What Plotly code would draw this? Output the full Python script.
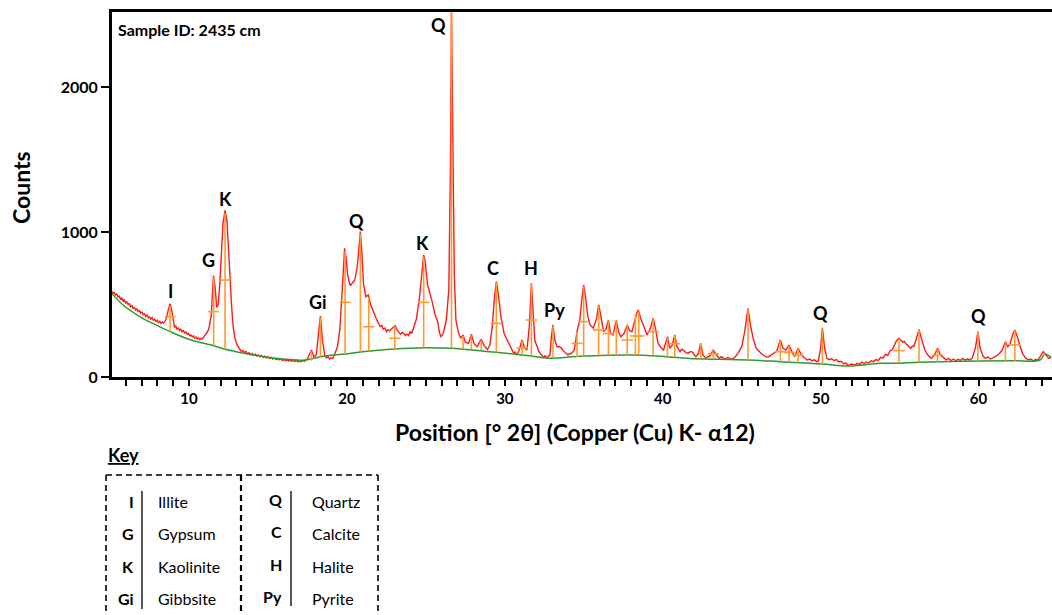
import plotly.graph_objects as go

# ---------------- data ----------------
# measured XRD pattern: (position in degrees 2-theta, counts)
xrd_pattern = [
    (5.10, 590), (5.18, 578), (5.26, 584), (5.34, 566), (5.42, 572), (5.50, 552), (5.58, 558), (5.66, 538),
    (5.74, 545), (5.82, 525), (5.90, 532), (5.98, 510), (6.06, 518), (6.14, 500), (6.22, 506), (6.30, 484),
    (6.38, 492), (6.46, 474), (6.54, 480), (6.62, 462), (6.70, 470), (6.78, 452), (6.86, 458), (6.94, 440),
    (7.02, 448), (7.10, 430), (7.18, 436), (7.26, 418), (7.34, 428), (7.42, 408), (7.50, 414), (7.58, 400),
    (7.66, 410), (7.74, 392), (7.82, 398), (7.90, 385), (7.98, 392), (8.06, 376), (8.14, 384), (8.22, 370),
    (8.30, 380), (8.38, 372), (8.46, 382), (8.55, 400), (8.70, 470), (8.80, 505), (8.90, 460), (9.00, 380),
    (9.08, 345), (9.16, 352), (9.24, 330), (9.32, 338), (9.40, 322), (9.48, 330), (9.56, 312), (9.64, 320),
    (9.72, 304), (9.80, 310), (9.88, 295), (9.96, 302), (10.04, 285), (10.12, 290), (10.20, 276), (10.28, 284),
    (10.36, 268), (10.44, 276), (10.52, 262), (10.60, 270), (10.68, 258), (10.76, 268), (10.84, 262), (10.95, 280),
    (11.10, 300), (11.25, 330), (11.40, 420), (11.55, 700), (11.65, 620), (11.75, 480), (11.85, 500), (11.95, 650),
    (12.05, 880), (12.15, 1060), (12.28, 1150), (12.40, 1080), (12.50, 880), (12.60, 660), (12.70, 480), (12.80, 340),
    (12.90, 270), (13.05, 220), (13.20, 190), (13.30, 178), (13.40, 184), (13.50, 170), (13.60, 176), (13.70, 160),
    (13.80, 168), (13.90, 154), (14.00, 162), (14.10, 150), (14.20, 158), (14.30, 145), (14.40, 152), (14.50, 140),
    (14.60, 148), (14.70, 136), (14.80, 144), (14.90, 132), (15.00, 140), (15.10, 128), (15.20, 136), (15.30, 124),
    (15.40, 132), (15.50, 120), (15.60, 128), (15.70, 118), (15.80, 126), (15.90, 114), (16.00, 122), (16.10, 112),
    (16.20, 120), (16.30, 110), (16.40, 118), (16.50, 108), (16.60, 116), (16.70, 106), (16.80, 114), (16.90, 104),
    (17.00, 112), (17.10, 106), (17.20, 114), (17.30, 108), (17.40, 118), (17.50, 124), (17.60, 150), (17.75, 186),
    (17.90, 140), (18.05, 150), (18.20, 300), (18.32, 421), (18.45, 250), (18.60, 150), (18.70, 132), (18.80, 140),
    (18.90, 124), (19.00, 132), (19.10, 128), (19.20, 150), (19.40, 210), (19.55, 330), (19.70, 600), (19.85, 888),
    (19.95, 820), (20.05, 700), (20.20, 630), (20.35, 646), (20.50, 669), (20.65, 760), (20.85, 1003), (20.95, 850),
    (21.05, 640), (21.20, 554), (21.35, 566), (21.50, 500), (21.70, 440), (21.90, 390), (22.00, 372), (22.10, 347),
    (22.20, 356), (22.30, 330), (22.40, 338), (22.50, 313), (22.60, 326), (22.70, 318), (22.80, 330), (22.90, 340),
    (23.05, 354), (23.20, 320), (23.30, 306), (23.40, 295), (23.50, 308), (23.60, 300), (23.70, 285), (23.80, 296),
    (23.90, 286), (24.00, 313), (24.10, 300), (24.20, 330), (24.40, 400), (24.60, 554), (24.75, 700), (24.86, 842),
    (24.95, 800), (25.10, 640), (25.25, 577), (25.40, 520), (25.55, 440), (25.75, 380), (25.85, 310), (25.95, 278),
    (26.05, 290), (26.15, 320), (26.30, 400), (26.45, 600), (26.55, 1400), (26.62, 2530), (26.72, 1500), (26.80, 700),
    (26.90, 393), (27.05, 310), (27.20, 267), (27.35, 290), (27.50, 240), (27.70, 232), (27.88, 295), (28.05, 230),
    (28.25, 209), (28.50, 260), (28.70, 215), (28.90, 190), (29.05, 220), (29.20, 347), (29.35, 560), (29.46, 658),
    (29.60, 560), (29.75, 416), (29.95, 300), (30.15, 255), (30.35, 200), (30.45, 184), (30.55, 165), (30.65, 172),
    (30.75, 152), (30.85, 170), (30.95, 200), (31.08, 255), (31.25, 200), (31.40, 186), (31.55, 350), (31.68, 646),
    (31.80, 400), (31.90, 250), (32.05, 209), (32.15, 176), (32.25, 160), (32.35, 148), (32.45, 136), (32.55, 146),
    (32.65, 132), (32.75, 144), (32.85, 150), (32.95, 280), (33.05, 359), (33.15, 260), (33.30, 209), (33.45, 210),
    (33.60, 198), (33.70, 180), (33.80, 170), (33.90, 158), (34.00, 152), (34.10, 162), (34.20, 160), (34.30, 174),
    (34.40, 186), (34.57, 313), (34.75, 400), (34.90, 560), (34.99, 635), (35.10, 560), (35.25, 420), (35.40, 359),
    (35.60, 336), (35.80, 400), (35.94, 497), (36.05, 440), (36.25, 313), (36.40, 330), (36.56, 393), (36.70, 300),
    (36.85, 290), (37.06, 393), (37.20, 310), (37.35, 278), (37.55, 300), (37.75, 359), (37.90, 320), (38.05, 313),
    (38.20, 380), (38.35, 440), (38.45, 462), (38.60, 405), (38.80, 350), (39.00, 290), (39.20, 330), (39.39, 405),
    (39.55, 330), (39.70, 232), (39.90, 200), (40.05, 186), (40.30, 278), (40.45, 198), (40.60, 220), (40.76, 290),
    (40.90, 210), (41.00, 190), (41.10, 175), (41.20, 192), (41.30, 186), (41.45, 170), (41.60, 163), (41.75, 176),
    (41.90, 170), (42.00, 152), (42.10, 140), (42.25, 160), (42.40, 232), (42.55, 150), (42.65, 136), (42.75, 129),
    (42.85, 142), (42.95, 140), (43.20, 186), (43.40, 150), (43.50, 138), (43.60, 129), (43.70, 140), (43.80, 135),
    (43.90, 124), (44.00, 125), (44.10, 134), (44.20, 130), (44.30, 122), (44.40, 125), (44.50, 134), (44.60, 140),
    (44.80, 170), (45.00, 209), (45.20, 320), (45.40, 474), (45.55, 360), (45.70, 278), (45.90, 200), (46.10, 175),
    (46.25, 160), (46.40, 150), (46.55, 138), (46.70, 140), (46.85, 152), (47.00, 160), (47.20, 175), (47.45, 255),
    (47.60, 200), (47.80, 186), (48.00, 221), (48.20, 170), (48.35, 140), (48.57, 198), (48.80, 150), (49.00, 129),
    (49.15, 118), (49.30, 124), (49.45, 112), (49.60, 118), (49.75, 106), (49.85, 110), (50.00, 200), (50.11, 340),
    (50.25, 200), (50.40, 129), (50.55, 120), (50.70, 126), (50.85, 114), (51.00, 120), (51.15, 104), (51.30, 108),
    (51.45, 92), (51.60, 96), (51.75, 78), (51.85, 86), (52.00, 90), (52.15, 80), (52.30, 94), (52.45, 86),
    (52.60, 102), (52.75, 94), (52.90, 104), (53.05, 98), (53.20, 112), (53.35, 106), (53.50, 120), (53.65, 114),
    (53.80, 136), (53.95, 130), (54.10, 156), (54.25, 150), (54.40, 180), (54.55, 190), (54.70, 230), (54.80, 250),
    (54.96, 267), (55.10, 255), (55.20, 240), (55.30, 246), (55.40, 228), (55.50, 221), (55.60, 208), (55.70, 198),
    (55.80, 214), (55.90, 210), (56.05, 260), (56.23, 328), (56.40, 260), (56.60, 186), (56.80, 150), (57.00, 129),
    (57.20, 150), (57.40, 198), (57.60, 150), (57.80, 129), (57.95, 118), (58.10, 128), (58.25, 114), (58.40, 124),
    (58.55, 112), (58.70, 122), (58.85, 114), (59.00, 128), (59.15, 116), (59.30, 124), (59.45, 118), (59.60, 130),
    (59.80, 200), (59.96, 313), (60.10, 200), (60.30, 140), (60.45, 130), (60.60, 138), (60.75, 124), (60.90, 132),
    (61.05, 140), (61.20, 150), (61.35, 166), (61.50, 186), (61.70, 244), (61.85, 209), (62.00, 230), (62.15, 290),
    (62.30, 324), (62.45, 280), (62.60, 221), (62.80, 160), (63.00, 129), (63.15, 118), (63.30, 124), (63.45, 112),
    (63.60, 120), (63.75, 116), (63.90, 140), (64.10, 175), (64.20, 160), (64.30, 145), (64.45, 128), (64.60, 134),
]
two_theta = [p[0] for p in xrd_pattern]
counts = [p[1] for p in xrd_pattern]

# background (green) curve
bg_theta = [5.10, 5.90, 6.96, 8.00, 8.80, 10.12, 11.56, 12.28, 13.30, 14.35, 15.40, 16.88, 17.40,
            18.32, 19.88, 20.85, 23.00, 24.86, 26.60, 29.00, 29.46, 31.68, 32.73, 34.95, 38.30,
            41.10, 41.70, 45.40, 47.40, 50.10, 51.80, 53.75, 54.96, 56.20, 59.96, 62.30, 63.90,
            64.20, 64.60]
bg_counts = [577, 490, 412, 354, 313, 255, 216, 191, 168, 147, 129, 117, 117,
             140, 159, 172, 193, 202, 198, 175, 170, 145, 129, 145, 152,
             133, 128, 117, 106, 90, 76, 95, 95, 101, 110, 112, 117,
             159, 136]

# reference-pattern sticks (orange)
stick_pos = [8.80, 11.56, 12.28, 17.75, 18.32, 19.88, 20.85, 21.38, 23.03, 24.86, 26.62, 27.35,
             27.88, 28.51, 29.46, 31.09, 31.68, 33.05, 34.57, 34.99, 35.94, 36.56, 37.06, 37.75,
             38.27, 38.48, 39.39, 40.30, 40.76, 42.40, 43.20, 45.40, 47.45, 48.00, 48.57, 50.11,
             54.96, 56.23, 57.40, 59.96, 61.70, 62.30, 64.15]
stick_base = [313, 216, 191, 113, 140, 159, 172, 178, 193, 202, 198, 195,
              192, 185, 170, 152, 145, 130, 140, 145, 148, 149, 150, 151,
              152, 152, 148, 140, 136, 125, 122, 117, 106, 103, 100, 90,
              95, 101, 104, 110, 111, 112, 150]
stick_top = [490, 690, 1130, 180, 410, 870, 990, 550, 350, 830, 2530, 285,
             290, 255, 650, 250, 640, 350, 310, 625, 490, 390, 390, 355,
             435, 455, 400, 275, 285, 230, 185, 470, 250, 218, 195, 335,
             265, 325, 195, 310, 240, 320, 165]
mark_pos = [8.80, 11.56, 12.28, 19.88, 21.38, 23.03, 24.86, 29.46, 31.09, 31.68, 34.57, 34.99,
            35.94, 36.56, 37.75, 38.27, 38.48, 39.39, 40.76, 43.20, 47.45, 48.00, 48.57, 54.96,
            57.40, 62.30]
mark_val = [416, 451, 669, 515, 347, 267, 515, 370, 200, 393, 232, 382,
            324, 300, 255, 283, 283, 313, 230, 160, 175, 170, 150, 182,
            150, 221]

# peak labels
label_text = ["Q", "K", "G", "I", "Gi", "Q", "K", "C", "H", "Py", "Q", "Q"]
label_x = [25.81, 12.32, 11.24, 8.84, 18.15, 20.62, 24.80, 29.23, 31.64, 33.16, 50.00, 60.00]
label_y = [2429, 1228, 807, 593, 518, 1076, 925, 752, 752, 462, 442, 421]

# key
key_left_sym = ["I", "G", "K", "Gi"]
key_left_name = ["Illite", "Gypsum", "Kaolinite", "Gibbsite"]
key_right_sym = ["Q", "C", "H", "Py"]
key_right_name = ["Quartz", "Calcite", "Halite", "Pyrite"]

# ---------------- figure ----------------
FONT = "Lato"
W, H = 1052, 615
ML, MR, MT, MB = 112, 0, 12, 238
PW, PH = W - ML - MR, H - MT - MB


def px(x):
    return (x - ML) / PW


def py(y):
    return (H - MB - y) / PH


fig = go.Figure()

fig.add_trace(go.Scatter(x=two_theta, y=counts, mode="lines",
                         line=dict(color="#FF1A1A", width=1.4), hoverinfo="skip"))
fig.add_trace(go.Scatter(x=bg_theta, y=bg_counts, mode="lines", line_shape="spline",
                         line=dict(color="#2E9A2E", width=1.5), hoverinfo="skip"))

sx, sy = [], []
for p, b, t in zip(stick_pos, stick_base, stick_top):
    sx += [p, p, None]
    sy += [b, t, None]
fig.add_trace(go.Scatter(x=sx, y=sy, mode="lines",
                         line=dict(color="#FF9A30", width=1.6), hoverinfo="skip"))
fig.add_trace(go.Scatter(x=mark_pos, y=mark_val, mode="markers",
                         marker=dict(symbol="line-ew", size=8,
                                     line=dict(color="#FF9A30", width=1.6)),
                         hoverinfo="skip"))

annotations = []
for t, x, y in zip(label_text, label_x, label_y):
    annotations.append(dict(x=x, y=y, xref="x", yref="y", text=f"<b>{t}</b>", showarrow=False,
                            font=dict(family=FONT, size=18, color="black"),
                            xanchor="center", yanchor="middle"))

annotations.append(dict(x=px(116), y=py(29), xref="paper", yref="paper",
                        text="<b>Sample ID: 2435 cm</b>", showarrow=False,
                        font=dict(family=FONT, size=16, color="black"),
                        xanchor="left", yanchor="middle"))
annotations.append(dict(x=px(21), y=py(188), xref="paper", yref="paper",
                        text="<b>Counts</b>", showarrow=False, textangle=-90,
                        font=dict(family=FONT, size=23, color="black"),
                        xanchor="center", yanchor="middle"))
annotations.append(dict(x=px(575), y=py(432), xref="paper", yref="paper",
                        text="<b>Position [° 2θ] (Copper (Cu) K- α12)</b>", showarrow=False,
                        font=dict(family=FONT, size=23, color="black"),
                        xanchor="center", yanchor="middle"))
annotations.append(dict(x=px(106), y=py(455), xref="paper", yref="paper",
                        text="<b><u>Key</u></b>", showarrow=False,
                        font=dict(family=FONT, size=18, color="black"),
                        xanchor="left", yanchor="middle"))

row_y = [501, 533, 566, 598]
for i, yy in enumerate(row_y):
    annotations.append(dict(x=px(136), y=py(yy), xref="paper", yref="paper",
                            text=f"<b>{key_left_sym[i]}</b>", showarrow=False,
                            font=dict(family=FONT, size=16, color="black"),
                            xanchor="right", yanchor="middle"))
    annotations.append(dict(x=px(156), y=py(yy), xref="paper", yref="paper",
                            text=key_left_name[i], showarrow=False,
                            font=dict(family=FONT, size=16, color="black"),
                            xanchor="left", yanchor="middle"))
    annotations.append(dict(x=px(284), y=py(yy - 2), xref="paper", yref="paper",
                            text=f"<b>{key_right_sym[i]}</b>", showarrow=False,
                            font=dict(family=FONT, size=16, color="black"),
                            xanchor="right", yanchor="middle"))
    annotations.append(dict(x=px(310), y=py(yy), xref="paper", yref="paper",
                            text=key_right_name[i], showarrow=False,
                            font=dict(family=FONT, size=16, color="black"),
                            xanchor="left", yanchor="middle"))

dash = dict(color="black", width=1.6, dash="6px,4px")
shapes = [
    dict(type="line", xref="paper", yref="paper", x0=px(106), x1=px(378), y0=py(475), y1=py(475), line=dash),
    dict(type="line", xref="paper", yref="paper", x0=px(106), x1=px(106), y0=py(475), y1=py(640), line=dash),
    dict(type="line", xref="paper", yref="paper", x0=px(378), x1=px(378), y0=py(475), y1=py(640), line=dash),
    dict(type="line", xref="paper", yref="paper", x0=px(241), x1=px(241), y0=py(475), y1=py(640),
         line=dict(color="black", width=2.2, dash="6px,4px")),
    dict(type="line", xref="paper", yref="paper", x0=px(142), x1=px(142), y0=py(491), y1=py(609),
         line=dict(color="black", width=1.3)),
    dict(type="line", xref="paper", yref="paper", x0=px(291), x1=px(291), y0=py(491), y1=py(606),
         line=dict(color="black", width=1.3)),
]

fig.update_layout(
    width=W, height=H,
    margin=dict(l=ML, r=MR, t=MT, b=MB, pad=0),
    paper_bgcolor="white", plot_bgcolor="white",
    showlegend=False,
    font=dict(family=FONT, color="black"),
    annotations=annotations,
    shapes=shapes,
    xaxis=dict(range=[5.12, 5.12 + PW / 15.79], tickmode="array", tickvals=[10, 20, 30, 40, 50, 60],
               ticks="outside", ticklen=6, tickwidth=2, tickcolor="black",
               minor=dict(dtick=1, tick0=0, ticks="outside", ticklen=6, tickwidth=1.5, tickcolor="black"),
               showline=True, linewidth=3, linecolor="black", mirror=True,
               showgrid=False, zeroline=False,
               tickfont=dict(family=FONT, size=15, color="black", weight="bold")),
    yaxis=dict(range=[0, PH * 6.9], tickmode="array", tickvals=[0, 1000, 2000],
               ticks="outside", ticklen=8, tickwidth=2, tickcolor="black",
               showline=True, linewidth=3, linecolor="black", mirror=False,
               showgrid=False, zeroline=False,
               tickfont=dict(family=FONT, size=16, color="black", weight="bold")),
)

fig.write_html("out.html")
